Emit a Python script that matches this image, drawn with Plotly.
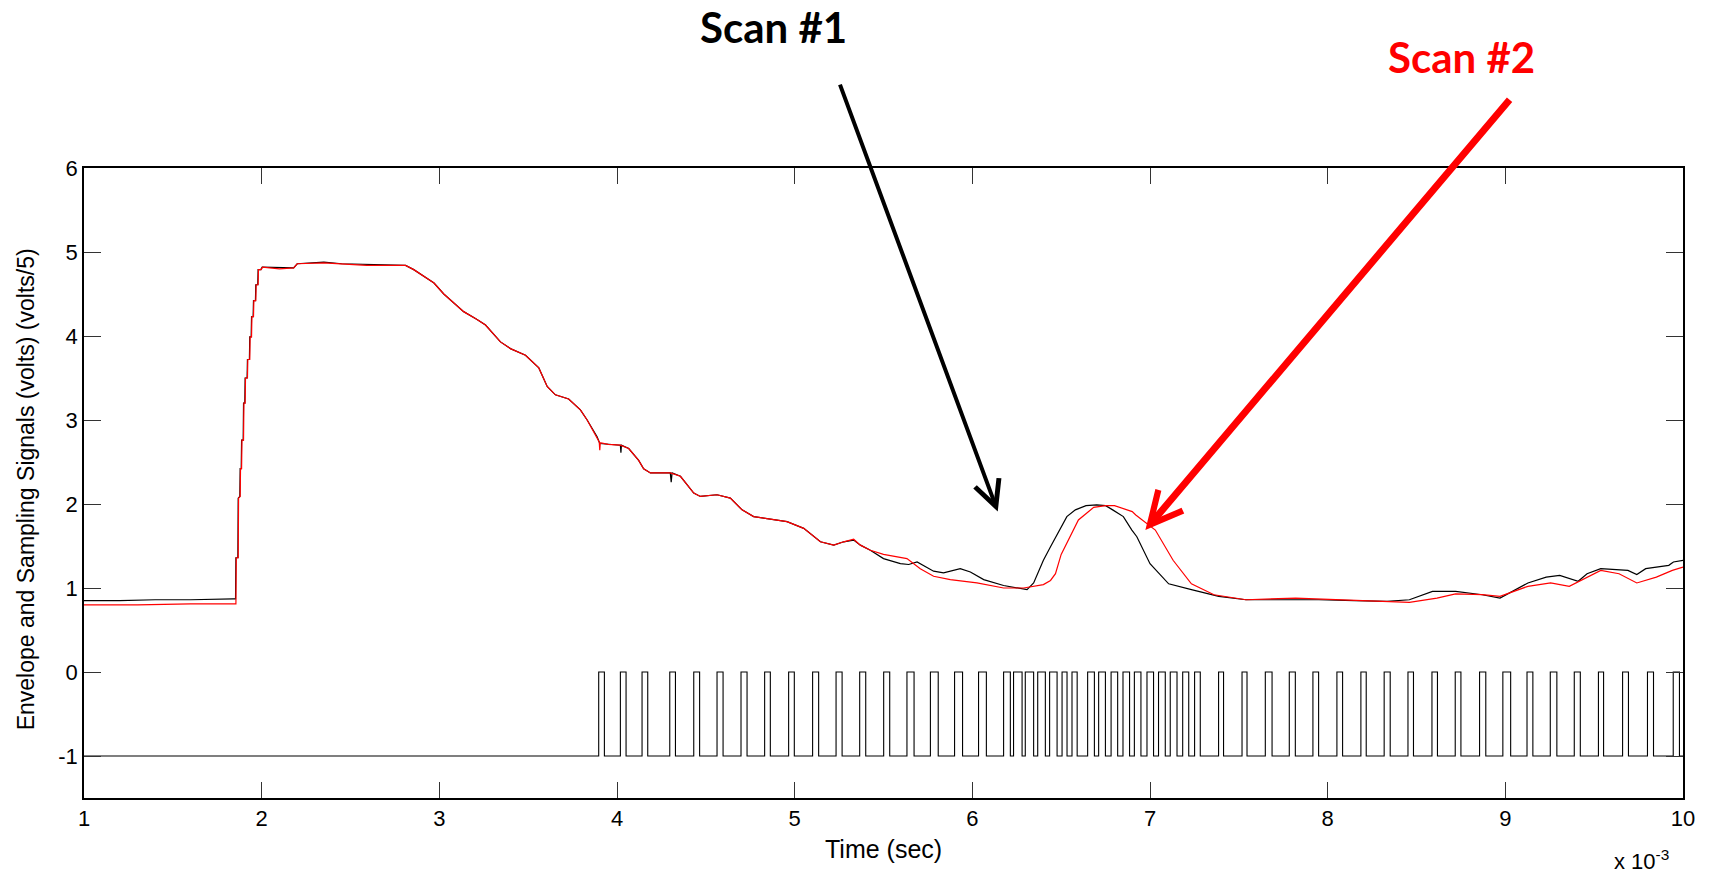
import plotly.graph_objects as go

# Time base is in units of 1e-3 s (axis carries the "x 10^-3" multiplier).

# Scan #1 envelope (volts/5)
scan1_t = [1.00, 1.20, 1.40, 1.60, 1.84, 1.853, 1.855, 1.866, 1.868, 1.877, 1.879, 1.885, 1.887,
           1.896, 1.898, 1.905, 1.907, 1.918, 1.920, 1.931, 1.933, 1.941, 1.943, 1.952, 1.954,
           1.965, 1.967, 1.978, 1.980, 1.995, 2.003, 2.10, 2.18, 2.20, 2.35, 2.45, 2.59, 2.70,
           2.81, 2.856, 2.97, 3.025, 3.137, 3.21, 3.26, 3.344, 3.40, 3.485, 3.56, 3.607, 3.653,
           3.728, 3.794, 3.832, 3.888, 3.903, 3.95, 4.019, 4.022, 4.025, 4.066, 4.122, 4.15,
           4.188, 4.30, 4.305, 4.31, 4.357, 4.432, 4.469, 4.563, 4.638, 4.704, 4.769, 4.863,
           4.957, 5.051, 5.107, 5.145, 5.22, 5.276, 5.332, 5.37, 5.426, 5.50, 5.595, 5.642,
           5.689, 5.782, 5.838, 5.932, 5.989, 6.064, 6.176, 6.308, 6.345, 6.40, 6.44, 6.49,
           6.532, 6.58, 6.64, 6.70, 6.75, 6.79, 6.85, 6.898, 6.926, 7.00, 7.105, 7.233, 7.387,
           7.54, 7.75, 7.95, 8.15, 8.334, 8.46, 8.59, 8.72, 8.87, 8.97, 9.127, 9.23, 9.306,
           9.41, 9.46, 9.537, 9.69, 9.74, 9.79, 9.92, 9.946, 10.0]
scan1_v = [0.85, 0.85, 0.86, 0.86, 0.87, 0.87, 1.36, 1.36, 2.07, 2.09, 2.42, 2.42, 2.76,
           2.76, 3.20, 3.20, 3.50, 3.50, 3.72, 3.72, 3.99, 3.99, 4.23, 4.23, 4.42,
           4.42, 4.61, 4.61, 4.79, 4.79, 4.82, 4.81, 4.81, 4.86, 4.88, 4.86, 4.85, 4.84,
           4.84, 4.79, 4.63, 4.50, 4.29, 4.20, 4.13, 3.93, 3.85, 3.77, 3.62, 3.40, 3.30,
           3.25, 3.12, 3.00, 2.80, 2.72, 2.71, 2.70, 2.61, 2.70, 2.66, 2.52, 2.42,
           2.37, 2.37, 2.26, 2.37, 2.33, 2.13, 2.09, 2.11, 2.07, 1.93, 1.85, 1.82,
           1.79, 1.71, 1.61, 1.55, 1.51, 1.55, 1.57, 1.51, 1.45, 1.35, 1.29, 1.28,
           1.31, 1.20, 1.18, 1.23, 1.19, 1.10, 1.03, 0.98, 1.06, 1.33, 1.49, 1.69,
           1.85, 1.93, 1.98, 1.99, 1.98, 1.93, 1.85, 1.69, 1.61, 1.29, 1.05, 0.98, 0.90,
           0.86, 0.86, 0.86, 0.85, 0.84, 0.86, 0.96, 0.96, 0.92, 0.88, 1.06, 1.13, 1.15,
           1.08, 1.17, 1.23, 1.21, 1.16, 1.23, 1.27, 1.31, 1.33]

# Scan #2 envelope (volts/5)
scan2_t = [1.00, 1.30, 1.60, 1.84, 1.855, 1.857, 1.868, 1.870, 1.879, 1.881, 1.887, 1.889,
           1.898, 1.900, 1.907, 1.909, 1.920, 1.922, 1.933, 1.935, 1.943, 1.945, 1.954, 1.956,
           1.967, 1.969, 1.980, 1.982, 1.997, 2.005, 2.10, 2.18, 2.20, 2.35, 2.45, 2.59, 2.70,
           2.81, 2.856, 2.97, 3.025, 3.137, 3.21, 3.26, 3.344, 3.40, 3.485, 3.56, 3.607, 3.653,
           3.728, 3.794, 3.832, 3.888, 3.900, 3.903, 3.906, 3.95, 4.019, 4.066, 4.122, 4.15,
           4.188, 4.30, 4.357, 4.432, 4.469, 4.563, 4.638, 4.704, 4.769, 4.863, 4.957, 5.051,
           5.107, 5.145, 5.22, 5.276, 5.332, 5.37, 5.426, 5.50, 5.632, 5.707, 5.782, 5.876,
           6.026, 6.176, 6.289, 6.345, 6.40, 6.44, 6.468, 6.50, 6.54, 6.597, 6.683, 6.75,
           6.80, 6.90, 6.92, 7.03, 7.13, 7.233, 7.36, 7.54, 7.82, 8.08, 8.30, 8.46, 8.615,
           8.72, 8.87, 8.97, 9.127, 9.255, 9.36, 9.537, 9.64, 9.74, 9.85, 9.94, 10.0]
scan2_v = [0.80, 0.80, 0.81, 0.81, 0.81, 1.36, 1.36, 2.07, 2.09, 2.42, 2.42, 2.76,
           2.76, 3.20, 3.20, 3.50, 3.50, 3.72, 3.72, 3.99, 3.99, 4.23, 4.23, 4.42,
           4.42, 4.61, 4.61, 4.79, 4.79, 4.82, 4.80, 4.81, 4.86, 4.87, 4.86, 4.84, 4.84,
           4.84, 4.79, 4.63, 4.50, 4.29, 4.20, 4.13, 3.93, 3.85, 3.77, 3.62, 3.40, 3.30,
           3.25, 3.12, 3.00, 2.80, 2.74, 2.64, 2.73, 2.71, 2.70, 2.66, 2.52, 2.42,
           2.37, 2.37, 2.33, 2.13, 2.09, 2.11, 2.07, 1.93, 1.85, 1.82, 1.79, 1.71,
           1.61, 1.55, 1.51, 1.55, 1.58, 1.51, 1.45, 1.40, 1.35, 1.23, 1.14, 1.10,
           1.06, 1.00, 1.00, 1.02, 1.04, 1.09, 1.17, 1.40, 1.57, 1.81, 1.96, 1.98,
           1.98, 1.91, 1.87, 1.69, 1.33, 1.05, 0.92, 0.86, 0.88, 0.86, 0.84, 0.83, 0.88,
           0.93, 0.92, 0.90, 1.02, 1.06, 1.02, 1.21, 1.17, 1.06, 1.13, 1.21, 1.25]

# Sampling gate: rising / falling edge times; low = -1, high = 0
gate_rise = [3.897, 4.019, 4.141, 4.297, 4.432, 4.563, 4.698, 4.831, 4.966, 5.101, 5.233,
             5.366, 5.501, 5.632, 5.764, 5.900, 6.035, 6.176, 6.232, 6.298, 6.368, 6.435,
             6.505, 6.561, 6.649, 6.711, 6.781, 6.848, 6.912, 6.983, 7.048, 7.114, 7.184,
             7.251, 7.386, 7.518, 7.649, 7.784, 7.917, 8.052, 8.187, 8.318, 8.452, 8.587,
             8.718, 8.855, 8.986, 9.122, 9.253, 9.388, 9.524, 9.660, 9.800, 9.945]
gate_fall = [3.929, 4.051, 4.173, 4.329, 4.465, 4.597, 4.732, 4.863, 4.998, 5.135, 5.267,
             5.400, 5.535, 5.672, 5.808, 5.945, 6.079, 6.214, 6.280, 6.345, 6.411, 6.477,
             6.533, 6.590, 6.687, 6.749, 6.818, 6.885, 6.949, 7.020, 7.086, 7.152, 7.218,
             7.283, 7.414, 7.546, 7.687, 7.818, 7.949, 8.084, 8.217, 8.352, 8.483, 8.618,
             8.750, 8.890, 9.030, 9.155, 9.290, 9.422, 9.553, 9.693, 9.834, 9.980]
gate_low, gate_high = -1.0, 0.0

x_ticks = [1, 2, 3, 4, 5, 6, 7, 8, 9, 10]
y_ticks = [-1, 0, 1, 2, 3, 4, 5, 6]

# expand the edge lists into a rectangular waveform
gate_t, gate_v = [1.0], [gate_low]
for r, f in zip(gate_rise, gate_fall):
    gate_t += [r, r, f, f]
    gate_v += [gate_low, gate_high, gate_high, gate_low]
gate_t.append(10.0)
gate_v.append(gate_low)

fig = go.Figure()
fig.add_trace(go.Scatter(x=scan1_t, y=scan1_v, mode="lines", name="Scan #1",
                         line=dict(color="black", width=1.2)))
fig.add_trace(go.Scatter(x=scan2_t, y=scan2_v, mode="lines", name="Scan #2",
                         line=dict(color="#ff0000", width=1.2)))
fig.add_trace(go.Scatter(x=gate_t, y=gate_v, mode="lines", name="Sampling",
                         line=dict(color="black", width=1.1)))

axis_font = dict(family="Liberation Sans, Arial, sans-serif", size=22, color="black")
fig.update_xaxes(range=[1, 10], tickvals=x_ticks, ticktext=[str(v) for v in x_ticks],
                 ticks="inside", ticklen=16, tickwidth=1.2, tickcolor="#333",
                 showline=True, linecolor="black", linewidth=1.6, mirror="allticks",
                 showgrid=False, zeroline=False, tickfont=axis_font)
fig.update_yaxes(range=[-1.5, 6], tickvals=y_ticks, ticktext=[str(v) for v in y_ticks],
                 ticks="inside", ticklen=17, tickwidth=1.2, tickcolor="#333",
                 showline=True, linecolor="black", linewidth=1.6, mirror="allticks",
                 showgrid=False, zeroline=False, tickfont=axis_font)

ytitle_font = dict(family="Liberation Sans, Arial, sans-serif", size=23, color="black")
xtitle_font = dict(family="Liberation Sans, Arial, sans-serif", size=25, color="black")
mult_font = dict(family="Liberation Sans, Arial, sans-serif", size=22, color="black")
scan_font = dict(family="Lato, sans-serif", size=42, weight="bold")

fig.update_layout(
    width=1713, height=876,
    margin=dict(l=84, r=30, t=168, b=78, autoexpand=False),
    paper_bgcolor="white", plot_bgcolor="white",
    showlegend=False,
    annotations=[
        dict(text="Envelope and Sampling Signals (volts) (volts/5)", textangle=-90,
             xref="paper", yref="paper", x=0, y=0.49, xshift=-58, xanchor="center",
             yanchor="middle", showarrow=False, font=ytitle_font),
        dict(text="Time (sec)", xref="paper", yref="paper", x=0.5, y=0, yshift=-51,
             xanchor="center", yanchor="middle", showarrow=False, font=xtitle_font),
        dict(text="x 10<sup>-3</sup>", xref="paper", yref="paper", x=1, y=0, yshift=-62,
             xshift=-12, xanchor="right", yanchor="middle", showarrow=False, font=mult_font),
        dict(text="Scan #1", xref="paper", yref="paper", x=0.4312, y=1.2238,
             xanchor="center", yanchor="middle", showarrow=False,
             font=dict(scan_font, color="black")),
        dict(text="Scan #2", xref="paper", yref="paper", x=0.8612, y=1.176,
             xanchor="center", yanchor="middle", showarrow=False,
             font=dict(scan_font, color="#ff0000")),
        dict(text="", xref="x", yref="y", x=6.143, y=1.91, axref="x", ayref="y",
             ax=5.252, ay=7.01, showarrow=True, arrowhead=5, arrowsize=1.25,
             arrowwidth=4, arrowcolor="black", standoff=0),
        dict(text="", xref="x", yref="y", x=6.974, y=1.69, axref="x", ayref="y",
             ax=9.031, ay=6.83, showarrow=True, arrowhead=5, arrowsize=0.9,
             arrowwidth=7, arrowcolor="#ff0000", standoff=0),
    ],
)

fig.write_html("out.html")
